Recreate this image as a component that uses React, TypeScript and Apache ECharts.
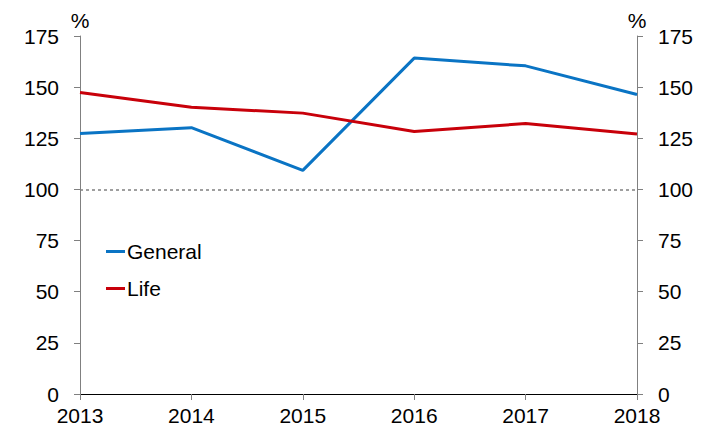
import React, { useEffect, useRef } from "react";
import * as echarts from "echarts";

const years = ["2013", "2014", "2015", "2016", "2017", "2018"];
const general = [127.3, 130.2, 109.3, 164.2, 160.4, 146.4];
const life = [147.4, 140.2, 137.3, 128.3, 132.2, 127.1];
const reference = 100;

export default function App() {
  const ref = useRef<HTMLDivElement>(null);
  useEffect(() => {
    if (!ref.current) return;
    const chart = echarts.init(ref.current, undefined, { renderer: "svg" });
    const font = "Liberation Sans, Arial, sans-serif";
    const fs = 21;
    const yAxisBase = {
      type: "value" as const,
      min: 0,
      max: 175,
      interval: 25,
      name: "%",
      nameGap: 5,
      nameTextStyle: { color: "#000", fontSize: fs, fontFamily: font },
      splitLine: { show: false },
      axisLine: { show: true, lineStyle: { color: "#808080", width: 1 } },
      axisTick: { show: true, length: 6, lineStyle: { color: "#808080" } },
      axisLabel: { color: "#000", fontSize: fs, fontFamily: font, margin: 21 },
    };
    chart.setOption({
      animation: false,
      grid: { left: 80, right: 65, top: 36, bottom: 34 },
      legend: {
        orient: "vertical",
        left: 101,
        top: 236,
        itemGap: 16,
        itemWidth: 19,
        itemHeight: 3,
        icon: "rect",
        textStyle: { color: "#000", fontSize: fs, fontFamily: font, padding: [0, 0, 0, -3] },
        data: ["General", "Life"],
      },
      xAxis: {
        type: "category",
        data: years,
        boundaryGap: false,
        axisLine: { lineStyle: { color: "#000", width: 1 } },
        axisTick: { show: true, length: 6, lineStyle: { color: "#808080" } },
        axisLabel: { color: "#000", fontSize: fs, fontFamily: font, margin: 11 },
      },
      yAxis: [
        { ...yAxisBase, position: "left", nameLocation: "end" },
        { ...yAxisBase, position: "right", nameLocation: "end" },
      ],
      series: [
        {
          name: "General",
          type: "line",
          data: general,
          symbol: "none",
          lineStyle: { color: "#0a74c4", width: 3 },
          itemStyle: { color: "#0a74c4" },
          markLine: {
            silent: true,
            symbol: "none",
            label: { show: false },
            lineStyle: { color: "#808080", type: [3, 3], width: 1.5 },
            data: [{ yAxis: reference }],
          },
        },
        {
          name: "Life",
          type: "line",
          data: life,
          symbol: "none",
          lineStyle: { color: "#c8000a", width: 3 },
          itemStyle: { color: "#c8000a" },
        },
      ],
    });
    return () => chart.dispose();
  }, []);
  return (
    <div
      ref={ref}
      style={{ position: "absolute", left: 0, top: 0, width: 702, height: 428 }}
    />
  );
}
